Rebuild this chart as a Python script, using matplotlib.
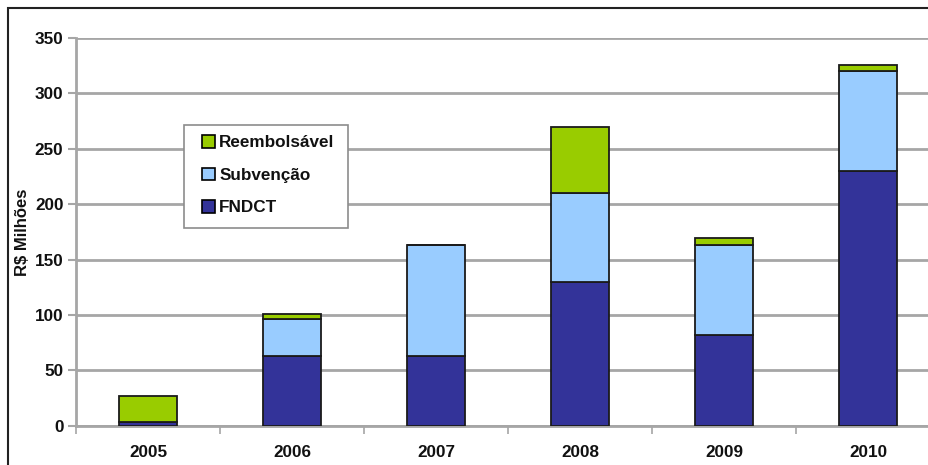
import numpy as np
import matplotlib
matplotlib.use('Agg')
import matplotlib.pyplot as plt
from matplotlib.patches import Rectangle, Patch

plt.rcParams['font.family'] = ['Liberation Sans', 'DejaVu Sans']
plt.rcParams['font.weight'] = 'bold'

#%% data (R$ milhoes)
years = ['2005', '2006', '2007', '2008', '2009', '2010']
fndct = [3, 63, 63, 130, 82, 230]
subvencao = [0, 33, 100, 80, 81, 90]
reembolsavel = [24, 5, 0, 60, 6, 6]

c_fndct = '#333399'
c_sub = '#99ccff'
c_reemb = '#99cc00'
gridc = '#a6a6a6'

fig = plt.figure(figsize=(9.29, 4.65), dpi=100)
ax = fig.add_axes([76/929, 1-425.7/465, 864/929, (425.7-38)/465])

x = np.arange(len(years))
fndct = np.array(fndct)
subvencao = np.array(subvencao)
reembolsavel = np.array(reembolsavel)
w = 0.405
kw = dict(width=w, edgecolor='#1a1a1a', linewidth=1.3, zorder=3)
ax.bar(x, fndct, color=c_fndct, **kw)
ax.bar(x, subvencao, bottom=fndct, color=c_sub, **kw)
ax.bar(x, reembolsavel, bottom=fndct+subvencao, color=c_reemb, **kw)

ax.set_xlim(-0.5, len(years)-0.5)
ax.set_ylim(0, 350)
ax.set_yticks(np.arange(0, 351, 50))
ax.yaxis.grid(True, color=gridc, linewidth=2.0, zorder=0)
ax.set_axisbelow(True)
ax.tick_params(axis='y', direction='out', length=6, width=1.5, color=gridc,
               labelsize=12.3, pad=3, labelcolor='#111111')

# ticks between categories, labels at centres
ax.set_xticks(np.arange(-0.5, len(years)), minor=False)
ax.set_xticklabels([])
ax.set_xticks(x, minor=True)
ax.set_xticklabels(years, minor=True)
ax.tick_params(axis='x', which='major', direction='out', length=6,
               width=1.2, color=gridc)
ax.tick_params(axis='x', which='minor', length=0, labelsize=12.3, pad=14,
               labelcolor='#111111')
for lab in ax.get_yticklabels() + ax.get_xticklabels(minor=True):
    lab.set_fontweight('bold')

for s in ['top', 'right']:
    ax.spines[s].set_visible(False)
for s in ['left', 'bottom']:
    ax.spines[s].set_color(gridc)
    ax.spines[s].set_linewidth(2.0)

fig.text(23/929, 1-232/465, 'R$ Milhões', rotation=90, ha='center',
         va='center', fontsize=12, fontweight='bold', color='#111111')

# legend box
fig.patches.append(Rectangle((184/929, 1-228/465), 164/929, 103/465,
                             transform=fig.transFigure, facecolor='white',
                             edgecolor='#8c8c8c', linewidth=1.2, zorder=5))
handles = [Patch(facecolor=c_reemb, edgecolor='black', linewidth=1.2),
           Patch(facecolor=c_sub, edgecolor='black', linewidth=1.2),
           Patch(facecolor=c_fndct, edgecolor='black', linewidth=1.2)]
leg = fig.legend(handles, ['Reembolsável', 'Subvenção', 'FNDCT'],
                 loc='upper left', bbox_to_anchor=(202/929, 1-135/465),
                 frameon=False, fontsize=12.3, handlelength=0.75,
                 handleheight=0.75, handletextpad=0.25, labelspacing=1.02,
                 borderpad=0, borderaxespad=0)
leg.set_zorder(6)
for t in leg.get_texts():
    t.set_fontweight('bold')
    t.set_color('#111111')

# outer frame of the original picture
fig.patches.append(Rectangle((8/929, -0.2), 2.0, 1.2-8/465,
                             transform=fig.transFigure, facecolor='none',
                             edgecolor='#222222', linewidth=1.5))

plt.savefig('out.png', dpi=100)
